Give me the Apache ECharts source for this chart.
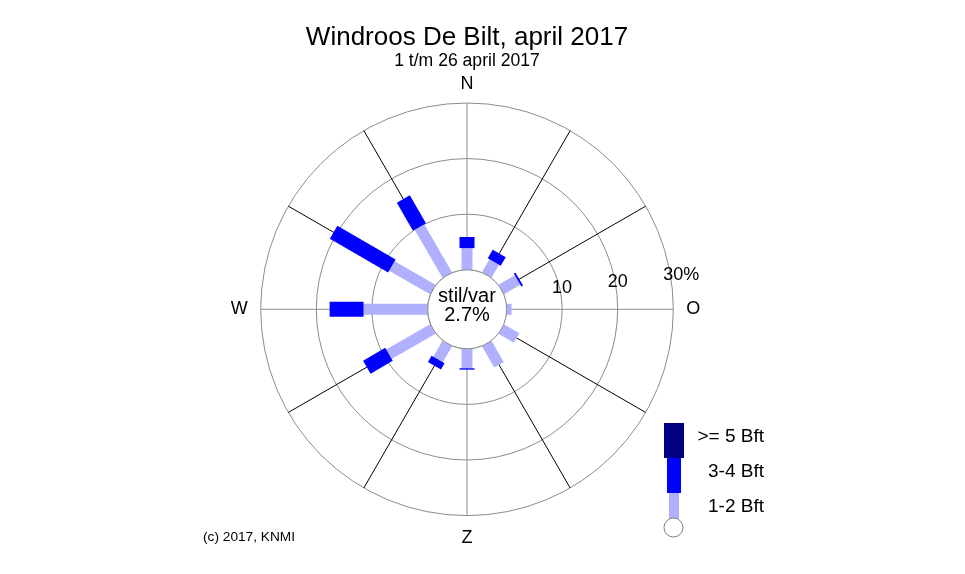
<!DOCTYPE html>
<html><head><meta charset="utf-8">
<script src="https://cdn.jsdelivr.net/npm/echarts@6/dist/echarts.min.js"></script>
<style>html,body{margin:0;padding:0;background:#fff}#c{width:965px;height:574px}</style>
</head><body><div id="c"></div>
<script>
// ---- data ----
const directions = [0, 30, 60, 90, 120, 150, 180, 210, 240, 270, 300, 330];
const bft12 = [3.9, 2.7, 3.4, 0.9, 3.2, 4.4, 3.5, 3.3, 9.1, 11.5, 8.5, 10.0];
const bft34 = [2.0, 1.8, 0.35, 0, 0, 0, 0.25, 1.3, 4.6, 6.1, 12.1, 5.8];
const bft5  = [0, 0, 0, 0, 0, 0, 0, 0, 0, 0, 0, 0];
const calmPct = 2.7;
const ringValues = [10, 20, 30];
const ringLabels = ['10', '20', '30%'];
const compassAngles = [0, 90, 180, 270];
const compassNames = ['N', 'O', 'Z', 'W'];
const legendLabels = ['>= 5 Bft', '3-4 Bft', '1-2 Bft'];
const titleText = 'Windroos De Bilt, april 2017';
const subtitleText = '1 t/m 26 april 2017';
const copyrightText = '(c) 2017, KNMI';

// ---- style ----
const FONT = '"Liberation Sans", Arial, Helvetica, sans-serif';
const C_LIGHT = '#b0b0ff', C_BLUE = '#0000ff', C_NAVY = '#000080', C_GRID = '#8c8c8c';

function stackData(lower, arr) {
  return directions.map((d, i) => {
    let s = 0; lower.forEach(a => { s += a[i]; });
    return [s + arr[i], d, s];
  });
}

function barRender(width, color) {
  return function (params, api) {
    const end = api.value(0), ang = api.value(1), start = api.value(2);
    if (!(end - start > 0)) return null;
    const p0 = api.coord([start, ang]);
    const p1 = api.coord([end, ang]);
    const q0 = api.coord([0, ang]), q1 = api.coord([30, ang]);
    let dx = q1[0] - q0[0], dy = q1[1] - q0[1];
    const L = Math.hypot(dx, dy); dx /= L; dy /= L;
    const nx = -dy * width / 2, ny = dx * width / 2;
    return {
      type: 'polygon',
      shape: { points: [[p0[0] + nx, p0[1] + ny], [p1[0] + nx, p1[1] + ny], [p1[0] - nx, p1[1] - ny], [p0[0] - nx, p0[1] - ny]] },
      style: { fill: color }
    };
  };
}

const chart = echarts.init(document.getElementById('c'), null, { renderer: 'canvas' });
chart.setOption({
  backgroundColor: '#fff',
  animation: false,
  title: {
    text: titleText, subtext: subtitleText,
    left: 467, textAlign: 'center', top: 25, itemGap: 1, padding: 0,
    textStyle: { fontSize: 26, fontWeight: 'normal', color: '#000', fontFamily: FONT },
    subtextStyle: { fontSize: 17.6, color: '#000', fontFamily: FONT }
  },
  polar: { center: [467, 309.3], radius: [39.5, 206.3] },
  angleAxis: {
    type: 'value', min: 0, max: 360, interval: 30, startAngle: 90, clockwise: true,
    axisLine: { show: false }, axisTick: { show: false },
    axisLabel: {
      margin: 13, fontSize: 18, color: '#000', fontFamily: FONT,
      formatter: v => {
        const i = compassAngles.indexOf(v);
        if (i < 0) return '';
        return i === 0 ? '{top|' + compassNames[i] + '}' : compassNames[i];
      },
      rich: { top: { fontSize: 18, lineHeight: 12, color: '#000', fontFamily: FONT } }
    },
    splitLine: { show: true, lineStyle: { color: [C_GRID, '#000', '#000'], width: 1 } }
  },
  radiusAxis: {
    type: 'value', min: 0, max: 30, interval: 10,
    axisLine: { show: false }, axisTick: { show: false }, axisLabel: { show: false },
    splitLine: { show: true, lineStyle: { color: C_GRID, width: 1 } }
  },
  series: [
    { type: 'custom', coordinateSystem: 'polar', renderItem: barRender(11, C_LIGHT), data: stackData([], bft12), z: 3 },
    { type: 'custom', coordinateSystem: 'polar', renderItem: barRender(15, C_BLUE), data: stackData([bft12], bft34), z: 4 },
    { type: 'custom', coordinateSystem: 'polar', renderItem: barRender(19, C_NAVY), data: stackData([bft12, bft34], bft5), z: 5 },
    {
      type: 'custom', coordinateSystem: 'polar', z: 6,
      data: ringValues.map(v => [v, 90]),
      renderItem: function (params, api) {
        const p = api.coord([api.value(0), api.value(1)]);
        const cx = params.coordSys.cx;
        return {
          type: 'text',
          x: p[0] - 10, y: p[1] - (9.7 + 0.118 * (p[0] - cx)),
          style: { text: ringLabels[params.dataIndex], fill: '#000', font: '18px ' + FONT, align: 'left', verticalAlign: 'middle' }
        };
      }
    }
  ],
  graphic: [
    { type: 'circle', shape: { cx: 467.2, cy: 309.3, r: 39.5 }, style: { fill: '#fff', stroke: C_GRID, lineWidth: 1 }, z: 10 },
    { type: 'text', x: 467, y: 296, style: { text: 'stil/var', fill: '#000', font: '20px ' + FONT, align: 'center', verticalAlign: 'middle' }, z: 11 },
    { type: 'text', x: 467, y: 315, style: { text: calmPct.toFixed(1) + '%', fill: '#000', font: '20px ' + FONT, align: 'center', verticalAlign: 'middle' }, z: 11 },
    { type: 'rect', shape: { x: 664, y: 423, width: 20, height: 35 }, style: { fill: C_NAVY } },
    { type: 'rect', shape: { x: 667, y: 458, width: 14, height: 35 }, style: { fill: C_BLUE } },
    { type: 'rect', shape: { x: 669, y: 493, width: 10, height: 26 }, style: { fill: C_LIGHT } },
    { type: 'circle', shape: { cx: 673.5, cy: 527.5, r: 9.5 }, style: { fill: '#fff', stroke: '#808080', lineWidth: 1 } },
    { type: 'text', x: 764, y: 437, style: { text: legendLabels[0], fill: '#000', font: '19px ' + FONT, align: 'right', verticalAlign: 'middle' } },
    { type: 'text', x: 764, y: 471.5, style: { text: legendLabels[1], fill: '#000', font: '19px ' + FONT, align: 'right', verticalAlign: 'middle' } },
    { type: 'text', x: 764, y: 506.5, style: { text: legendLabels[2], fill: '#000', font: '19px ' + FONT, align: 'right', verticalAlign: 'middle' } },
    { type: 'text', x: 203, y: 537, style: { text: copyrightText, fill: '#000', font: '13.7px ' + FONT, align: 'left', verticalAlign: 'middle' } }
  ]
});
</script>
</body></html>
